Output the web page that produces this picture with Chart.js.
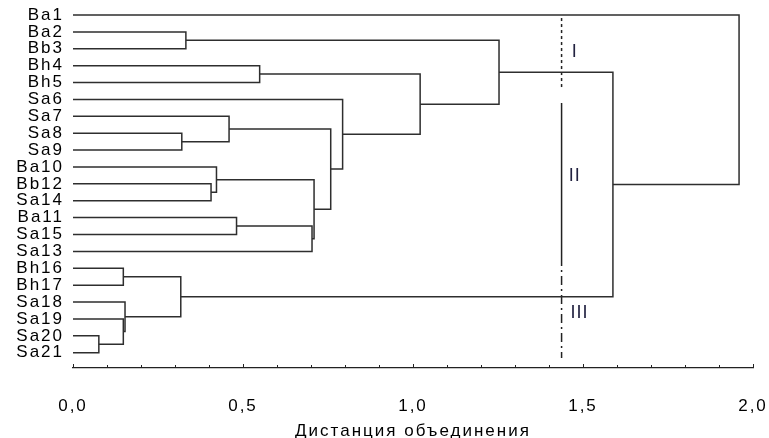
<!DOCTYPE html>
<html>
<head>
<meta charset="utf-8">
<script src="https://cdn.jsdelivr.net/npm/chart.js@4.4.0/dist/chart.umd.min.js"></script>
<style>
  html, body { margin: 0; padding: 0; background: #fff; }
  #wrap { width: 769px; height: 438px; }
</style>
</head>
<body>
<div id="wrap"><canvas id="dendro"></canvas></div>
<script>
// leaf order, top to bottom
const leaves = ['Ba1', 'Ba2', 'Bb3', 'Bh4', 'Bh5', 'Sa6', 'Sa7', 'Sa8', 'Sa9', 'Ba10', 'Bb12',
                'Sa14', 'Ba11', 'Sa15', 'Sa13', 'Bh16', 'Bh17', 'Sa18', 'Sa19', 'Sa20', 'Sa21'];

// merges: ids < 21 are leaves, id 21 + k is merge k
const mergeA      = [19, 18, 17, 15, 7, 24, 1, 10, 9, 6, 12, 3, 31, 29, 30, 5, 32, 27, 38, 0];
const mergeB      = [20, 21, 22, 16, 8, 23, 2, 11, 28, 25, 13, 4, 14, 33, 34, 35, 36, 37, 26, 39];
const mergeHeight = [0.076, 0.148, 0.153, 0.148, 0.320, 0.317, 0.332, 0.406, 0.422, 0.459,
                     0.481, 0.549, 0.703, 0.709, 0.758, 0.793, 1.021, 1.253, 1.588, 1.959];

// cut level and its three line pieces (leaf-index spans)
const cutLevel = 1.437;
const cutFrom  = [0.18, 5.21, 14.33];
const cutTo    = [4.44, 14.33, 20.31];
const cutDash  = [[3, 3], [], [9, 4, 2, 4]];

// cluster names
const clusterNames = ['I', 'II', 'III'];
const clusterX     = [1.476, 1.476, 1.49];
const clusterY     = [2.17, 9.52, 17.67];

const xTickLabels = ['0,0', '0,5', '1,0', '1,5', '2,0'];

const LINE = '#2e2e2e';
const TEXT = '#000';
const FONT = "'Liberation Sans', Arial, sans-serif";

// node positions
const nodes = leaves.map((_, i) => ({ h: 0, y: i }));
const datasets = [];
mergeHeight.forEach((h, k) => {
    const a = nodes[mergeA[k]], b = nodes[mergeB[k]];
    datasets.push({
        data: [{ x: a.h, y: a.y }, { x: h, y: a.y }, { x: h, y: b.y }, { x: b.h, y: b.y }],
        borderColor: LINE, borderWidth: 1.5
    });
    nodes.push({ h: h, y: (a.y + b.y) / 2 });
});
cutFrom.forEach((f, i) => {
    datasets.push({
        data: [{ x: cutLevel, y: f }, { x: cutLevel, y: cutTo[i] }],
        borderColor: '#222', borderWidth: 1.5, borderDash: cutDash[i]
    });
});

const spacing = {
    id: 'spacing',
    beforeLayout(chart) { chart.ctx.letterSpacing = '2px'; },
    beforeDraw(chart) { chart.ctx.letterSpacing = '2px'; }
};

// tick marks point up into the plot, plus the I / II / III labels
const extras = {
    id: 'extras',
    afterDraw(chart) {
        const ctx = chart.ctx, xs = chart.scales.x, ys = chart.scales.y;
        const bottom = chart.chartArea.bottom;
        ctx.save();
        ctx.strokeStyle = '#222';
        ctx.lineWidth = 1;
        xs.ticks.forEach(t => {
            const px = Math.round(xs.getPixelForValue(t.value)) + 0.5;
            const major = Math.abs(t.value * 2 - Math.round(t.value * 2)) < 1e-6;
            ctx.beginPath();
            ctx.moveTo(px, bottom);
            ctx.lineTo(px, bottom - (major ? 4 : 3));
            ctx.stroke();
        });
        ctx.letterSpacing = '1px';
        ctx.fillStyle = '#222240';
        ctx.font = '18px ' + FONT;
        ctx.textAlign = 'center';
        ctx.textBaseline = 'middle';
        clusterNames.forEach((n, i) => {
            ctx.fillText(n, xs.getPixelForValue(clusterX[i]), ys.getPixelForValue(clusterY[i]));
        });
        ctx.restore();
    }
};

new Chart(document.getElementById('dendro'), {
    type: 'scatter',
    data: { datasets: datasets },
    options: {
        responsive: true,
        maintainAspectRatio: false,
        animation: false,
        showLine: true,
        elements: { point: { radius: 0 }, line: { tension: 0 } },
        layout: { padding: { left: 0, right: 16, top: 5, bottom: 0 } },
        plugins: { legend: { display: false }, tooltip: { enabled: false } },
        scales: {
            x: {
                type: 'linear', min: 0, max: 2,
                grid: { display: true, drawOnChartArea: false, drawTicks: false },
                border: { display: true, color: '#222', width: 1.3 },
                afterBuildTicks(s) {
                    s.ticks = [];
                    for (let i = 0; i <= 20; i++) s.ticks.push({ value: i / 10 });
                },
                ticks: {
                    autoSkip: false, maxRotation: 0, padding: 28,
                    color: TEXT, font: { family: FONT, size: 17 },
                    callback(v) {
                        const j = Math.round(v * 2);
                        return Math.abs(v * 2 - j) < 1e-6 ? xTickLabels[j] : '';
                    }
                },
                title: {
                    display: true, text: 'Дистанция объединения', color: TEXT,
                    font: { family: FONT, size: 17 }, padding: { top: 0, bottom: -4 }
                },
                afterFit(s) {
                    s.height = 70;
                    s.paddingLeft = 0; s.paddingRight = 0;
                }
            },
            y: {
                type: 'linear', reverse: true, min: -0.592, max: 20.906,
                grid: { display: false, drawTicks: false },
                border: { display: false },
                afterBuildTicks(s) { s.ticks = leaves.map((_, i) => ({ value: i })); },
                ticks: {
                    autoSkip: false, padding: 9,
                    color: TEXT, font: { family: FONT, size: 17 },
                    callback(v) { return leaves[v]; }
                },
                afterFit(s) {
                    s.width = 73;
                    s.paddingTop = 0; s.paddingBottom = 0;
                }
            }
        }
    },
    plugins: [spacing, extras]
});
</script>
</body>
</html>
